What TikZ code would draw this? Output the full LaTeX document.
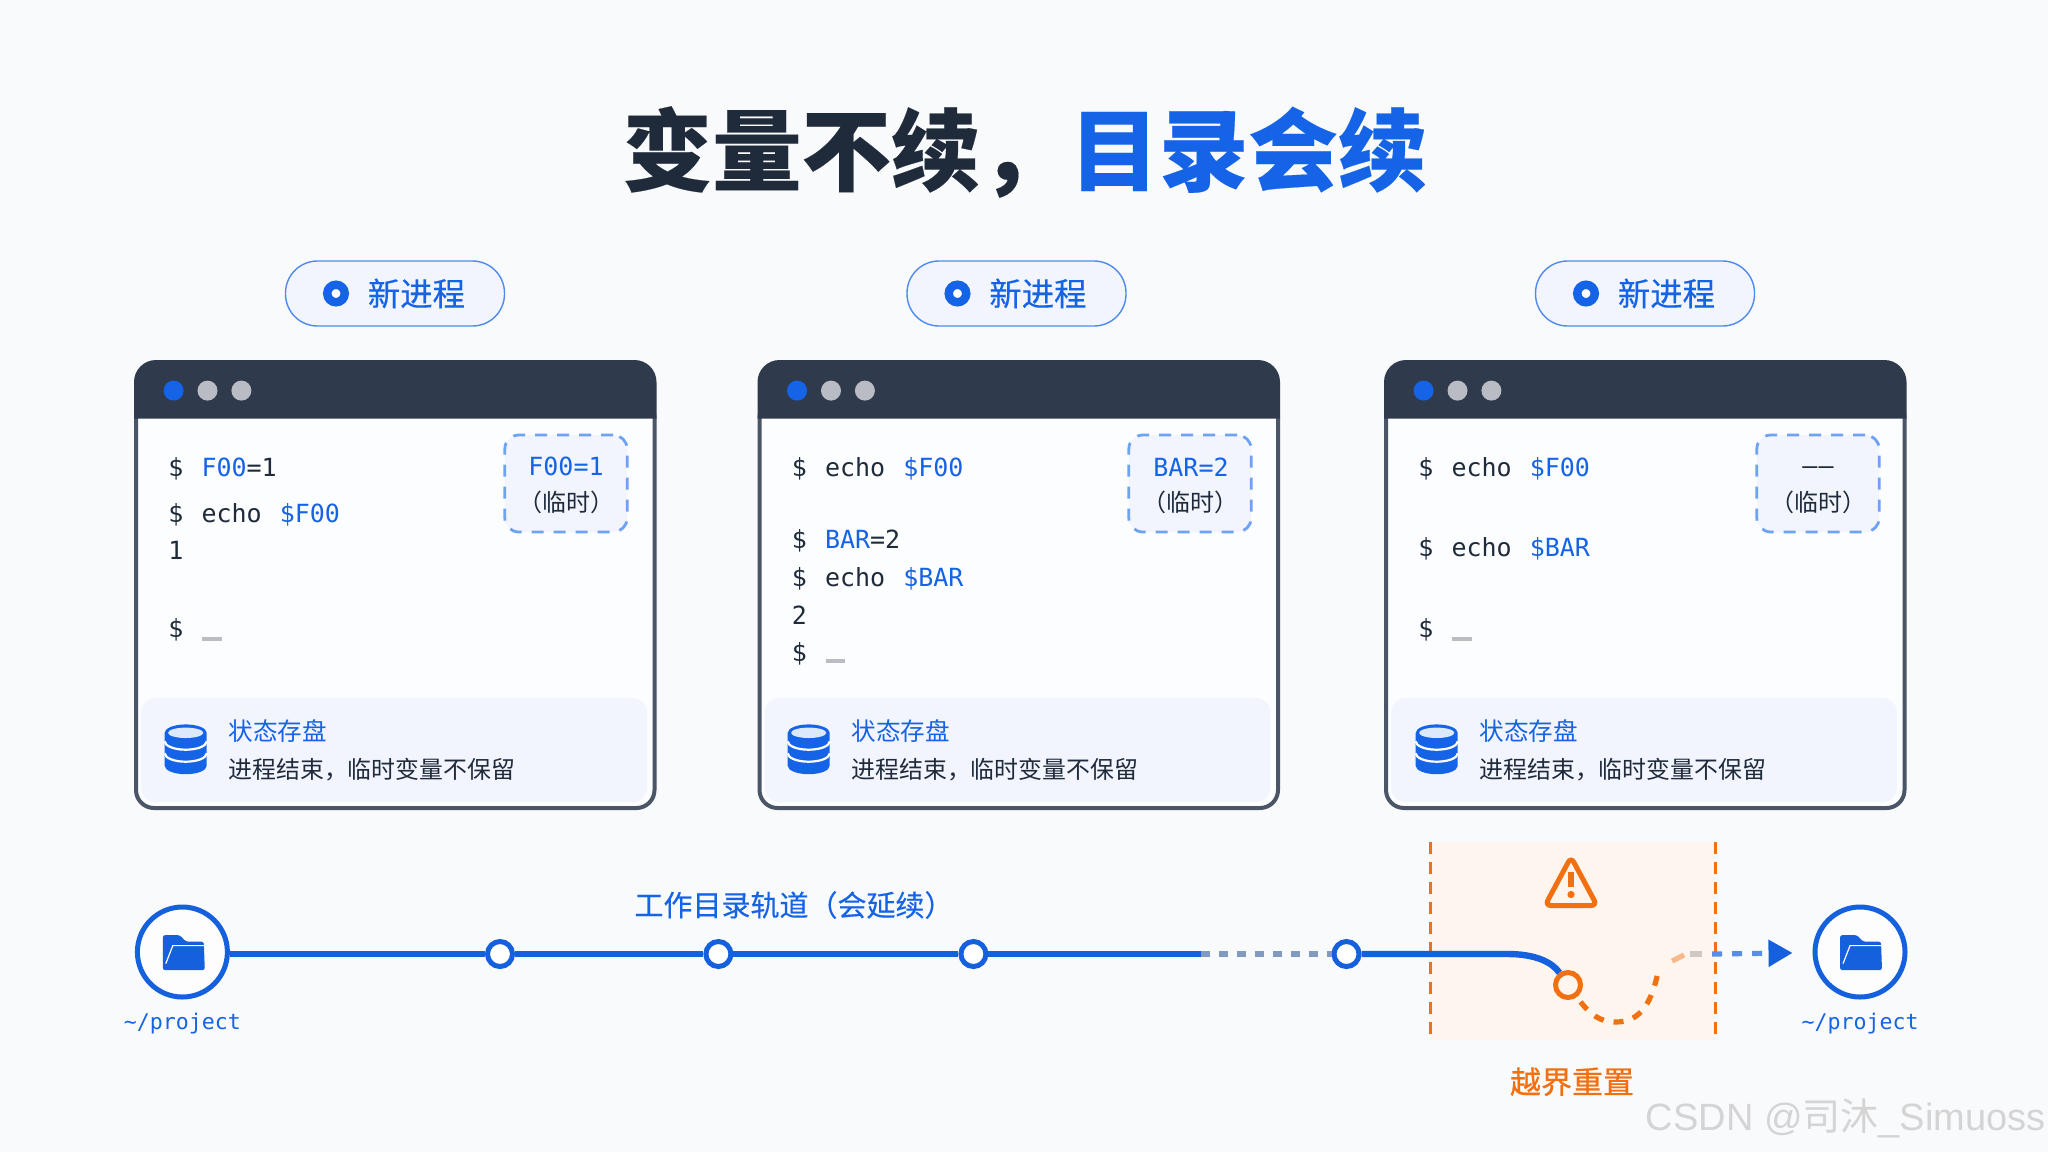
\documentclass[tikz,border=0pt]{standalone}
\usepackage{fontspec}
\usetikzlibrary{positioning, arrows.meta}
\newfontfamily\cjk[BoldFeatures={FakeBold=0.2}]{Noto Sans CJK SC}
\newfontfamily\cjkmed[FakeBold=0.3]{Noto Sans CJK SC}
\newfontfamily\cjkstrong[FakeBold=0.7]{Noto Sans CJK SC}
\newfontfamily\monofam{DejaVu Sans Mono}
\newfontfamily\markfam{Liberation Sans}
\newcommand{\codefont}{\monofam\fontsize{12.5}{14}\selectfont}
\newcommand{\tagfont}{\cjk\fontsize{12}{14}\selectfont}
\newcommand{\varname}[1]{\textcolor{blueink}{#1}}
\definecolor{pagebg}{HTML}{F9FAFC}
\definecolor{blueink}{HTML}{1563E6}
\definecolor{trackblue}{HTML}{1560DC}
\definecolor{headdark}{HTML}{2F3A4D}
\definecolor{framegray}{HTML}{4B5568}
\definecolor{inkdark}{HTML}{1F2A3A}
\definecolor{softblue}{HTML}{F2F5FD}
\definecolor{tagdash}{HTML}{6EA2F5}
\definecolor{dotgray}{HTML}{B9BCC2}
\definecolor{warnorange}{HTML}{F2700F}
\definecolor{warnfill}{HTML}{FDF5EE}
\tikzstyle{pill} = [rectangle, rounded corners=16pt, minimum width=109.5pt, minimum height=32.5pt, draw=blueink!75, line width=0.7pt, fill=softblue]
\tikzstyle{pilltext} = [inner sep=0pt, text=blueink, font=\cjkmed\fontsize{16.2}{18}\selectfont]
\tikzstyle{tagbox} = [rectangle, rounded corners=7pt, minimum width=61.2pt, minimum height=48.5pt, draw=tagdash, line width=1.4pt, dash pattern=on 6pt off 5pt, fill=softblue]
\tikzstyle{footbox} = [rectangle, rounded corners=7pt, minimum width=252.8pt, minimum height=52pt, fill=softblue]
\tikzstyle{codeline} = [anchor=west, inner sep=0pt, text height=9pt, text depth=0pt, text=inkdark, font=\codefont]
\tikzstyle{stopdot} = [circle, minimum size=12.5pt, inner sep=0pt, draw=trackblue, line width=2.5pt, fill=white]
\tikzstyle{homering} = [circle, minimum size=45pt, inner sep=0pt, draw=trackblue, line width=2.5pt, fill=white!60!pagebg]
\tikzstyle{track} = [line width=3.2pt, draw=trackblue]
\tikzstyle{pathlabel} = [inner sep=0pt, text=blueink, font=\monofam\fontsize{10.8}{12}\selectfont]
\tikzset{
  foldericon/.pic={
    \fill[trackblue, rounded corners=1.2pt] (-21,17.5) -- (-21,-17.5) -- (-4,-17.5) -- (2,-11) -- (20,-11) -- (21,17.5) -- cycle;
    \draw[white, line width=0.6pt] (-18,11) -- (-11,-7) -- (20,-7);
  },
  dbicon/.pic={
    \fill[blueink] (-21,-16.5) arc[x radius=10.5pt, y radius=4.2pt, start angle=180, end angle=0] -- (21,16.5) arc[x radius=10.5pt, y radius=4.2pt, start angle=0, end angle=-180] -- cycle;
    \fill[white!85!blueink] (0,-16.5) ellipse[x radius=8.8pt, y radius=2.6pt];
    \draw[white, line width=1.1pt] (-21,-8) arc[x radius=10.5pt, y radius=4.2pt, start angle=180, end angle=360];
    \draw[white, line width=1.1pt] (-21,4) arc[x radius=10.5pt, y radius=4.2pt, start angle=180, end angle=360];
  }
}

\begin{document}
\begin{tikzpicture}[x=0.5pt, y=-0.5pt, node distance=100pt]
    \useasboundingbox (0,0) rectangle (2048,1152);
    \fill[pagebg] (0,0) rectangle (2048,1152);
    %title
    \node (title) [inner sep=0pt, font=\cjk\bfseries\fontsize{44.7}{50}\selectfont, text=inkdark] at (1025,152) {变量不续，\textcolor{blueink}{目录会续}};
    %three terminals
    \foreach \n/\dx/\pdx/\tdx/\fdx in {A/0/0/0/0, B/623.5/621.5/624/623, C/1250/1250/1252/1251} {
        \node (pill\n) [pill] at (\pdx+395,293.5) {};
        \node (pilldot\n) [circle, minimum size=8.75pt, inner sep=0pt, draw=blueink, line width=4.25pt, fill=white] at (\pdx+336,293.5) {};
        \node (pilltext\n) [pilltext, right=9.2pt of pilldot\n] {新进程};
        \draw[framegray, line width=2pt, fill=white!55!pagebg, rounded corners=9pt] (\dx+136,400) rectangle (\dx+654.5,808);
        \fill[headdark] (\dx+134,418.5) [rounded corners=11pt] -- (\dx+134,360) -- (\dx+656.5,360) [sharp corners] -- (\dx+656.5,418.5) -- cycle;
        \fill[blueink] (\dx+173.6,390.6) circle (5pt);
        \fill[dotgray] (\dx+207.5,390.6) circle (5pt);
        \fill[dotgray] (\dx+241.4,390.6) circle (5pt);
        \node (tag\n) [tagbox] at (\tdx+566,483.5) {};
        \node (tagnote\n) [inner sep=0pt, text=inkdark, font=\tagfont] at (\tdx+566,502.7) {（临时）};
        \node (foot\n) [footbox] at (\dx+394,750) {};
        \pic at (\fdx+185.7,749.3) {dbicon};
        \node (foothead\n) [anchor=west, inner sep=0pt, text=blueink, font=\cjk\fontsize{12.3}{14}\selectfont] at (\fdx+228,731) {状态存盘};
        \node (footnote\n) [anchor=west, inner sep=0pt, text=inkdark, font=\cjk\fontsize{11.95}{14}\selectfont] at (\fdx+228,770) {进程结束，临时变量不保留};
    }
    %first terminal
    \node (lineAa) [codeline] at (168,467.5) {\$\hspace{1.5pt} \varname{F00}=1};
    \node (lineAb) [codeline] at (168,513.8) {\$\hspace{1.5pt} echo\hspace{1.5pt} \varname{\$F00}};
    \node (lineAc) [codeline] at (168,550.8) {1};
    \node (lineAd) [codeline] at (168,628.5) {\$};
    \fill[dotgray] (202,636.5) rectangle (221.5,640.5);
    \node (tagvarA) [inner sep=0pt, text=blueink, font=\codefont] at (566,466.8) {F00=1};
    %second terminal
    \node (lineBa) [codeline] at (791.5,467.5) {\$\hspace{1.5pt} echo\hspace{1.5pt} \varname{\$F00}};
    \node (lineBb) [codeline] at (791.5,539) {\$\hspace{1.5pt} \varname{BAR}=2};
    \node (lineBc) [codeline] at (791.5,577) {\$\hspace{1.5pt} echo\hspace{1.5pt} \varname{\$BAR}};
    \node (lineBd) [codeline] at (791.5,615) {2};
    \node (lineBe) [codeline] at (791.5,652) {\$};
    \fill[dotgray] (825.5,659) rectangle (845,663);
    \node (tagvarB) [inner sep=0pt, text=blueink, font=\codefont] at (1191,466.8) {BAR=2};
    %third terminal
    \node (lineCa) [codeline] at (1418,467.5) {\$\hspace{1.5pt} echo\hspace{1.5pt} \varname{\$F00}};
    \node (lineCb) [codeline] at (1418,547.7) {\$\hspace{1.5pt} echo\hspace{1.5pt} \varname{\$BAR}};
    \node (lineCd) [codeline] at (1418,628.5) {\$};
    \fill[dotgray] (1452,636.5) rectangle (1471.5,640.5);
    \node (tagvarC) [inner sep=0pt, text=inkdark, font=\codefont] at (1818,471) {—\hspace{0.6pt}—};
    %boundary zone
    \fill[warnfill] (1430,842) rectangle (1715.5,1040);
    \draw[warnorange, line width=1.5pt, dash pattern=on 6pt off 4pt] (1430,842) -- (1430,1040);
    \draw[warnorange, line width=1.5pt, dash pattern=on 6pt off 4pt] (1715.5,842) -- (1715.5,1040);
    \draw[warnorange, line width=2.5pt, rounded corners=3pt] (1571,857) -- (1597,905.5) -- (1545,905.5) -- cycle;
    \draw[warnorange, line width=2.6pt] (1571,872) -- (1571,887);
    \fill[warnorange] (1571,894.5) circle (1.8pt);
    \node (resetlabel) [inner sep=0pt, text=warnorange, font=\cjkstrong\fontsize{15.5}{18}\selectfont] at (1572,1081.7) {越界重置};
    %track
    \node (homeL) [homering] at (182.4,952) {};
    \pic at (183.8,952.6) {foldericon};
    \node (pathL) [pathlabel, below of=homeL, yshift=-64pt, yshift=128pt] {\textasciitilde/project};
    \node (stopA) [stopdot] at (500,954) {};
    \node (stopB) [stopdot, right of=stopA, xshift=9.2pt] {};
    \node (stopC) [stopdot, right of=stopB, xshift=27.5pt] {};
    \node (stopD) [stopdot] at (1346.5,954) {};
    \node (resetDot) [circle, minimum size=12.5pt, inner sep=0pt, draw=warnorange, line width=2.5pt, fill=warnfill] at (1568,985) {};
    \node (homeR) [homering] at (1860,952) {};
    \pic at (1861,952.6) {foldericon};
    \node (pathR) [pathlabel, below of=homeR, yshift=-64pt, yshift=128pt] {\textasciitilde/project};
    \node (tracklabel) [inner sep=0pt, text=blueink, font=\cjkmed\fontsize{14.5}{16}\selectfont] at (794,905) {工作目录轨道（会延续）};
    \coordinate (fadeStart) at (1201,954);
    \coordinate (bendStart) at (1508,954);
    \coordinate (resetLow) at (1616,1022);
    \coordinate (resetMid) at (1658,972);
    \coordinate (paleMid) at (1672,961);
    \coordinate (paleEnd) at (1684,955);
    \coordinate (grayStart) at (1690,954);
    \coordinate (grayEnd) at (1702,954);
    \coordinate (exitStart) at (1712,954);
    %arrows
    \draw [track] (stopA -| homeL.east) -- (stopA);
    \draw [track] (stopA) -- (stopB);
    \draw [track] (stopB) -- (stopC);
    \draw [track] (stopC) -- (fadeStart);
    \draw [line width=2.6pt, draw=trackblue!45!gray!70!pagebg, dash pattern=on 4.5pt off 4.5pt] (fadeStart) -- (stopD);
    \draw [track] (stopD) -- (bendStart) .. controls (1535,954) and (1552,962) .. (resetDot);
    \draw [line width=2.6pt, draw=warnorange, dash pattern=on 5pt off 5pt, dash phase=-3pt] (resetDot) .. controls (1590,1015) and (1600,1022) .. (resetLow) .. controls (1642,1022) and (1652,1000) .. (resetMid);
    \draw [line width=2.6pt, draw=warnorange!45!warnfill] (paleMid) -- (paleEnd);
    \draw [line width=2.6pt, draw=black!18!warnfill] (grayStart) -- (grayEnd);
    \draw [line width=2.6pt, draw=trackblue!70!pagebg, dash pattern=on 5pt off 5pt, -{Triangle[length=12pt, width=13pt, color=trackblue, fill=trackblue]}, shorten >=10pt] (exitStart) -- (homeR);
    %watermark
    \node (mark) [anchor=east, inner sep=0pt, text=black!17, font=\markfam\fontsize{19}{24}\selectfont] at (2046,1118) {CSDN @{\cjk 司沐}\_Simuoss};
\end{tikzpicture}
\end{document}
